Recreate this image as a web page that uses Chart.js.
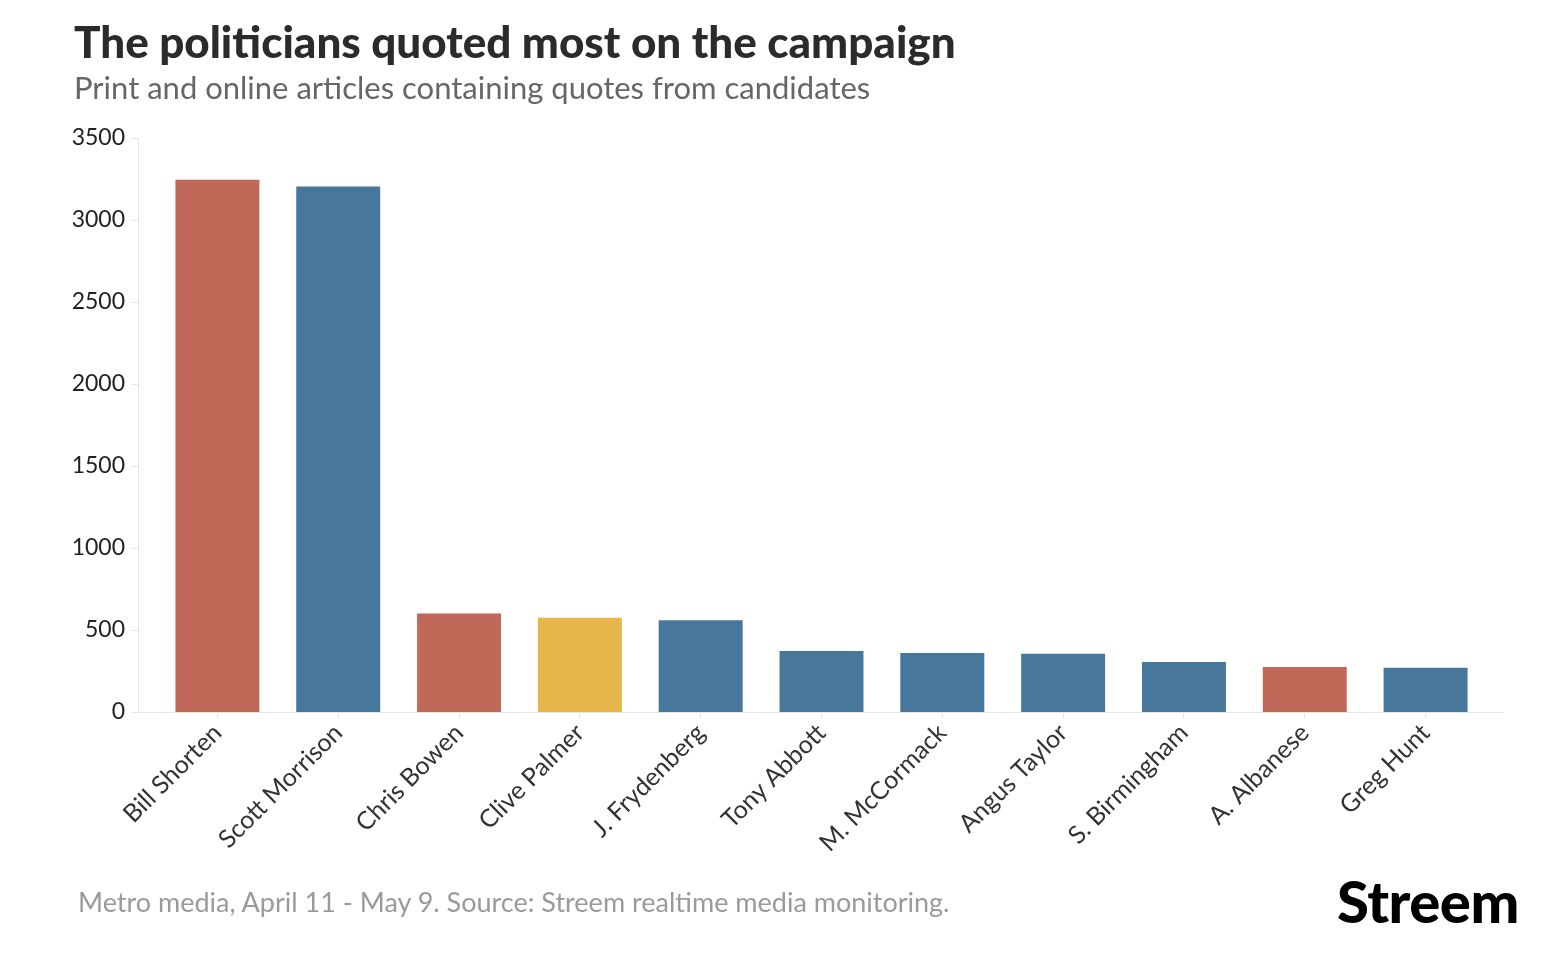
<!DOCTYPE html>
<html lang="en">
<head>
<meta charset="UTF-8">
<title>The politicians quoted most on the campaign</title>
<script src="https://cdn.jsdelivr.net/npm/chart.js"></script>
<style>
  html, body { margin: 0; padding: 0; background: #fff; }
  .wrap { position: relative; width: 1566px; height: 966px; overflow: hidden; font-family: Lato, "Open Sans", sans-serif; }
  .wrap canvas { position: absolute; left: 0; top: 0; }
  .title { position: absolute; left: 74px; top: 15px; font-size: 44px; font-weight: 900; color: #2b2b2b; white-space: nowrap; }
  .sub { position: absolute; left: 74px; top: 68px; font-size: 31px; color: #666; white-space: nowrap; }
  .foot { position: absolute; left: 78px; top: 885px; font-size: 27px; color: #9a9a9a; white-space: nowrap; }
  .logo { position: absolute; left: 1337px; top: 866px; font-size: 58px; font-weight: 900; color: #000; letter-spacing: -0.5px; white-space: nowrap; }
</style>
</head>
<body>
<div class="wrap">
  <canvas id="chart" width="1566" height="966"></canvas>
  <div class="title">The politicians quoted most on the campaign</div>
  <div class="sub">Print and online articles containing quotes from candidates</div>
  <div class="foot">Metro media, April 11 - May 9. Source: Streem realtime media monitoring.</div>
  <div class="logo">Streem</div>
</div>
<script>
// data
var politicians = ["Bill Shorten", "Scott Morrison", "Chris Bowen", "Clive Palmer", "J. Frydenberg",
  "Tony Abbott", "M. McCormack", "Angus Taylor", "S. Birmingham", "A. Albanese", "Greg Hunt"];
var articles = [3245, 3205, 600, 575, 560, 372, 360, 355, 305, 274, 270];
var parties = ["ALP", "LIB", "ALP", "UAP", "LIB", "LIB", "NAT", "LIB", "LIB", "ALP", "LIB"];
var yTicks = [0, 500, 1000, 1500, 2000, 2500, 3000, 3500];

var partyColor = { ALP: "#c16959", LIB: "#47779b", NAT: "#47779b", UAP: "#e6b64a" };
var axisColor = "#e6e6e6";

// axis lines sit a little left of the first category, like the original
var axisLines = {
    id: "axisLines",
    afterDraw: function (chart) {
        var ctx = chart.ctx, a = chart.chartArea, y = chart.scales.y;
        var x0 = a.left - 19;
        ctx.save();
        ctx.strokeStyle = axisColor;
        ctx.lineWidth = 1;
        ctx.beginPath();
        ctx.moveTo(x0 + 0.5, a.top);
        ctx.lineTo(x0 + 0.5, a.bottom);
        ctx.moveTo(x0, a.bottom + 0.5);
        ctx.lineTo(a.right + 17, a.bottom + 0.5);
        yTicks.forEach(function (v) {
            var py = Math.round(y.getPixelForValue(v)) + 0.5;
            ctx.moveTo(x0 - 6, py);
            ctx.lineTo(x0, py);
        });
        ctx.stroke();
        ctx.restore();
    }
};

new Chart(document.getElementById("chart"), {
    type: "bar",
    data: {
        labels: politicians,
        datasets: [{
            data: articles,
            backgroundColor: parties.map(function (p) { return partyColor[p]; }),
            borderWidth: 0,
            barPercentage: 0.695,
            categoryPercentage: 1
        }]
    },
    options: {
        responsive: false,
        animation: false,
        layout: { padding: { top: 138, left: 0, right: 80, bottom: 94 } },
        plugins: { legend: { display: false }, tooltip: { enabled: false } },
        scales: {
            x: {
                afterFit: function (s) { s.height = 160; },
                grid: { offset: false, drawOnChartArea: false, tickLength: 6, color: axisColor },
                border: { display: false },
                ticks: { minRotation: 45, maxRotation: 45, padding: 0, color: "#333", font: { family: "Lato", size: 25 } }
            },
            y: {
                min: 0,
                max: 3500,
                afterFit: function (s) { s.width = 157; },
                afterBuildTicks: function (s) { s.ticks = yTicks.map(function (v) { return { value: v }; }); },
                grid: { display: false },
                border: { display: false },
                ticks: {
                    padding: 24, color: "#222", font: { family: "Lato", size: 23 },
                    callback: function (v) { return String(v); }
                }
            }
        }
    },
    plugins: [axisLines]
});
</script>
</body>
</html>
